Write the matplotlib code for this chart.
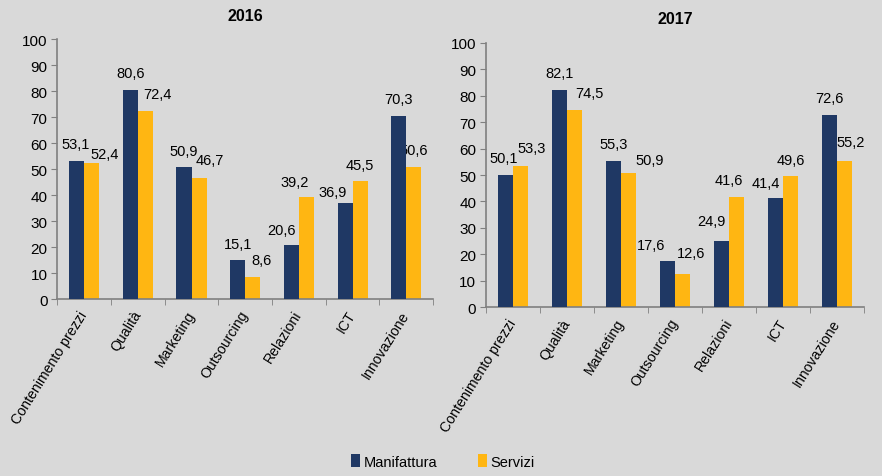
import numpy as np
import matplotlib.pyplot as plt

categories = ["Contenimento prezzi", "Qualità", "Marketing", "Outsourcing",
              "Relazioni", "ICT", "Innovazione"]
man_2016 = [53.1, 80.6, 50.9, 15.1, 20.6, 36.9, 70.3]
ser_2016 = [52.4, 72.4, 46.7, 8.6, 39.2, 45.5, 50.6]
man_2017 = [50.1, 82.1, 55.3, 17.6, 24.9, 41.4, 72.6]
ser_2017 = [53.3, 74.5, 50.9, 12.6, 41.6, 49.6, 55.2]

# label nudges (pixels: dx from bar centre, dy above bar top)
off_man_2016 = [(-1, 17), (0, 17), (0, 16), (0, 16), (-10, 15), (-12, 11), (0, 17)]
off_ser_2016 = [(13, 9), (12, 17), (11, 18), (9, 17), (-12, 15), (0, 16), (0, 17)]
off_man_2017 = [(-2, 17), (0, 17), (0, 17), (-17, 16), (-10, 20), (-10, 15), (0, 17)]
off_ser_2017 = [(11, 18), (15, 17), (21, 13), (8, 21), (-8, 17), (0, 16), (6, 19)]

NAVY = "#1f3864"
GOLD = "#ffb612"
BG = "#d9d9d9"

plt.rcParams['font.family'] = ['Liberation Sans', 'DejaVu Sans']

fig = plt.figure(figsize=(8.82, 4.77), dpi=100, facecolor=BG)
ax1 = fig.add_axes([0.065, 0.371, 0.426, 0.545])
ax2 = fig.add_axes([0.551, 0.354, 0.429, 0.554])


def fmt(v):
    return f"{v:.1f}".replace(".", ",")


def draw(ax, man, ser, off_m, off_s, title):
    ax.set_facecolor(BG)
    x = np.arange(len(categories))
    w = 0.28
    ax.bar(x - w / 2, man, w, color=NAVY, label="Manifattura", zorder=3)
    ax.bar(x + w / 2, ser, w, color=GOLD, label="Servizi", zorder=2)
    for xi, v, (dx, dy) in zip(x, man, off_m):
        ax.annotate(fmt(v), (xi - w / 2, v), xytext=(dx, dy), textcoords="offset pixels",
                    ha="center", va="center", fontsize=10.5, zorder=4)
    for xi, v, (dx, dy) in zip(x, ser, off_s):
        ax.annotate(fmt(v), (xi + w / 2, v), xytext=(dx, dy), textcoords="offset pixels",
                    ha="center", va="center", fontsize=10.5, zorder=2.5)
    ax.set_ylim(0, 100)
    ax.set_yticks(range(0, 101, 10))
    ax.set_xlim(-0.5, len(categories) - 0.5)
    ax.set_xticks(x)
    ax.set_xticklabels(categories, rotation=58, ha="right", va="center",
                       rotation_mode="anchor", fontsize=10.2)
    ax.set_xticks(np.arange(-0.5, len(categories)), minor=True)
    ax.tick_params(axis="x", which="major", length=0, pad=9)
    ax.tick_params(axis="x", which="minor", length=4, color="#808080")
    ax.tick_params(axis="y", length=4, color="#808080", labelsize=11, pad=3)
    for s in ["top", "right"]:
        ax.spines[s].set_visible(False)
    for s in ["left", "bottom"]:
        ax.spines[s].set_color("#808080")
        ax.spines[s].set_linewidth(1.2)
    ax.set_title(title, fontweight="bold", fontsize=11.5, pad=14)


draw(ax1, man_2016, ser_2016, off_man_2016, off_ser_2016, "2016")
draw(ax2, man_2017, ser_2017, off_man_2017, off_ser_2017, "2017")

handles, labels = ax1.get_legend_handles_labels()
fig.legend(handles, labels, loc="center", bbox_to_anchor=(0.502, 0.03), ncol=2,
           frameon=False, handlelength=0.6, handleheight=1.0, handletextpad=0.25,
           columnspacing=2.8, prop={'family': ['Liberation Sans Narrow', 'Liberation Sans'], 'size': 10.5})

fig.savefig("out.png", dpi=100, facecolor=BG)
